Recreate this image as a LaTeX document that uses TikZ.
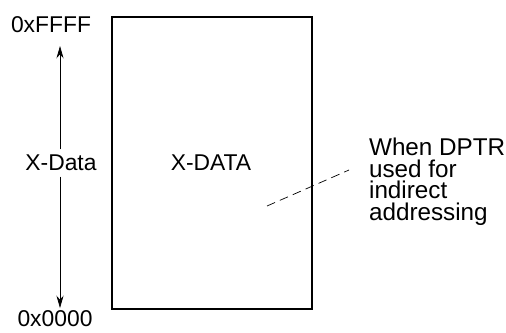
\documentclass[tikz,border=0pt]{standalone}
\usepackage{fontspec}
\setmainfont{Liberation Sans}
\usetikzlibrary{arrows.meta,positioning}

\begin{document}
\begin{tikzpicture}[x=0.02cm, y=-0.02cm,
    lbl/.style={font=\fontsize{13}{14}\selectfont, inner sep=1pt},
    marr/.style={-{Stealth[length=7pt,width=4pt]}, thin}]
\useasboundingbox (0,0) rectangle (506,332);

% Memory block
\draw[thick] (112,17) rectangle (312,309);
\node[lbl] (xdata) at (211,163) {X-DATA};

% Address range
\node[lbl] (top) at (51,25) {0xFFFF};
\node[lbl] (bot) at (55,319) {0x0000};
\node[lbl, fill=white, inner sep=3pt] (range) at (61,163) {X-Data};
\coordinate (toptip) at (60,46);
\coordinate (bottip) at (60,308);
\draw[marr] (range.north -| toptip) -- (toptip);
\draw[marr] (range.south -| bottip) -- (bottip);

% Note
\node[lbl, align=left, anchor=north west, font=\fontsize{13.8}{12.3}\selectfont] (note) at (367,136)
    {When DPTR\\used for\\indirect\\addressing};
\coordinate (dashA) at (267,206);
\coordinate (dashB) at (349,170);
\draw[dashed, dash pattern=on 5pt off 3pt] (dashA) -- (dashB);
\end{tikzpicture}
\end{document}
